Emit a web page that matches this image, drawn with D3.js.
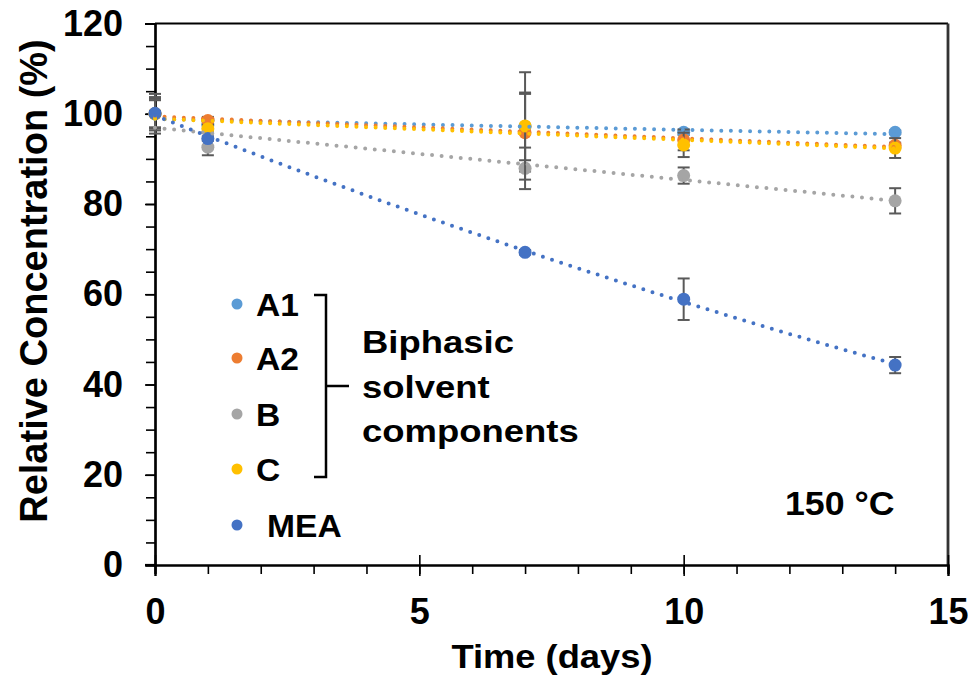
<!DOCTYPE html>
<html>
<head>
<meta charset="utf-8">
<script src="https://cdn.jsdelivr.net/npm/d3@7"></script>
<style>
  html, body { margin: 0; padding: 0; background: #fff; }
  svg text { font-family: "Liberation Sans", Arial, sans-serif; font-weight: bold; fill: #000; }
</style>
</head>
<body>
<svg id="chart" width="973" height="682"></svg>
<script>
// Sampling days
const days = [0, 1, 7, 10, 14];

// Relative concentration (%) per component
const seriesNames = ["A1", "A2", "B", "C", "MEA"];
const valuesA1  = [100.0, 97.5, 97.2, 95.9, 95.9];
const valuesA2  = [100.0, 98.5, 95.8, 94.2, 93.0];
const valuesB   = [100.0, 92.6, 87.9, 86.3, 80.7];
const valuesC   = [100.0, 96.7, 97.3, 93.1, 92.4];
const valuesMEA = [100.1, 94.5, 69.3, 58.9, 44.3];

// Standard deviations (±) for the error bars
const errA1  = [4.4, 0.8, 7.5, 0.6, 0.4];
const errA2  = [3.0, 0.8, 8.6, 2.3, 0.6];
const errB   = [3.3, 1.8, 4.6, 1.8, 2.8];
const errC   = [3.7, 0.8, 11.9, 2.7, 2.2];
const errMEA = [0.5, 0.5, 0.5, 4.6, 1.8];

// Trendline order per series (1 = linear, 2 = quadratic)
const trendOrder = [1, 1, 1, 1, 2];

const colors = ["#5B9BD5", "#ED7D31", "#A5A5A5", "#FFC000", "#4472C4"];

// Axis ticks
const xMajorTicks = [0, 5, 10, 15];
const xMinorTicks = d3.range(0, 16, 1);
const yMajorTicks = [0, 20, 40, 60, 80, 100, 120];
const yMinorTicks = d3.range(0, 121, 5);

const allValues = [valuesA1, valuesA2, valuesB, valuesC, valuesMEA];
const allErrors = [errA1, errA2, errB, errC, errMEA];

const series = seriesNames.map((name, i) => ({
  name,
  color: colors[i],
  order: trendOrder[i],
  points: days.map((d, j) => ({ x: d, y: allValues[i][j], e: allErrors[i][j] }))
}));

const svg = d3.select("#chart");
svg.append("rect").attr("width", 973).attr("height", 682).attr("fill", "#fff");

const x = d3.scaleLinear().domain([0, 15]).range([155, 948]);
const y = d3.scaleLinear().domain([0, 120]).range([565, 23.5]);

// Plot frame: top and right borders
svg.append("line").attr("x1", x(0)).attr("x2", x(15)).attr("y1", y(120)).attr("y2", y(120))
  .attr("stroke", "#000").attr("stroke-width", 2);
svg.append("line").attr("x1", x(15)).attr("x2", x(15)).attr("y1", y(120)).attr("y2", y(0))
  .attr("stroke", "#333").attr("stroke-width", 2.8);

// Y axis: minor ticks every 5, labels every 20
const yMinor = svg.append("g").attr("transform", `translate(${x(0)},0)`)
  .call(d3.axisLeft(y).tickValues(yMinorTicks).tickSize(9).tickFormat(""));
const yMajor = svg.append("g").attr("transform", `translate(${x(0)},0)`)
  .call(d3.axisLeft(y).tickValues(yMajorTicks).tickSize(10).tickPadding(22).tickFormat(d3.format("d")));

// X axis: minor ticks outside, major ticks crossing
const xMinor = svg.append("g").attr("transform", `translate(0,${y(0)})`)
  .call(d3.axisBottom(x).tickValues(xMinorTicks).tickSize(9).tickFormat(""));
const xMajorIn = svg.append("g").attr("transform", `translate(0,${y(0)})`)
  .call(d3.axisTop(x).tickValues(xMajorTicks).tickSize(10).tickFormat(""));
const xMajor = svg.append("g").attr("transform", `translate(0,${y(0)})`)
  .call(d3.axisBottom(x).tickValues(xMajorTicks).tickSize(11).tickPadding(22).tickFormat(d3.format("d")));

[yMinor, yMajor, xMinor, xMajorIn, xMajor].forEach(g => {
  g.selectAll(".domain").attr("stroke", "#000").attr("stroke-width", 2.2);
  g.selectAll(".tick line").attr("stroke", "#000").attr("stroke-width", 1.6);
  g.selectAll("text").style("font-size", "36px").attr("fill", "#000");
});
xMajorIn.select(".domain").remove();
svg.append("line").attr("x1", x(0) - 10).attr("x2", x(0)).attr("y1", y(0)).attr("y2", y(0))
  .attr("stroke", "#000").attr("stroke-width", 2.2);

// Least-squares polynomial fit (order 1 or 2) via normal equations
function polyFit(pts, order) {
  const n = order + 1;
  const A = Array.from({ length: n }, () => new Array(n + 1).fill(0));
  pts.forEach(p => {
    for (let r = 0; r < n; r++) {
      for (let c = 0; c < n; c++) A[r][c] += Math.pow(p.x, r + c);
      A[r][n] += p.y * Math.pow(p.x, r);
    }
  });
  for (let i = 0; i < n; i++) {
    for (let k = i + 1; k < n; k++) {
      const f = A[k][i] / A[i][i];
      for (let c = i; c <= n; c++) A[k][c] -= f * A[i][c];
    }
  }
  const coef = new Array(n).fill(0);
  for (let i = n - 1; i >= 0; i--) {
    let s = A[i][n];
    for (let c = i + 1; c < n; c++) s -= A[i][c] * coef[c];
    coef[i] = s / A[i][i];
  }
  return t => coef.reduce((acc, k, i) => acc + k * Math.pow(t, i), 0);
}

const plot = svg.append("g");

series.forEach(s => {
  const g = plot.append("g");
  const eb = g.selectAll(".eb").data(s.points).join("g").attr("class", "eb");
  eb.append("line")
    .attr("x1", p => x(p.x)).attr("x2", p => x(p.x))
    .attr("y1", p => y(p.y + p.e)).attr("y2", p => y(p.y - p.e))
    .attr("stroke", "#595959").attr("stroke-width", 2);
  [1, -1].forEach(sign => {
    eb.append("line")
      .attr("x1", p => x(p.x) - 6).attr("x2", p => x(p.x) + 6)
      .attr("y1", p => y(p.y + sign * p.e)).attr("y2", p => y(p.y + sign * p.e))
      .attr("stroke", "#595959").attr("stroke-width", 2);
  });
  g.selectAll("circle").data(s.points).join("circle")
    .attr("cx", p => x(p.x)).attr("cy", p => y(p.y)).attr("r", 6.5)
    .attr("fill", s.color);
});

// Dotted trendlines
const xs = d3.range(0, 14.001, 0.25);
series.forEach(s => {
  const f = polyFit(s.points, s.order);
  plot.append("path")
    .attr("d", d3.line().x(t => x(t)).y(t => y(f(t)))(xs))
    .attr("fill", "none")
    .attr("stroke", s.color).attr("stroke-width", 4)
    .attr("stroke-linecap", "round").attr("stroke-dasharray", "0 9.6");
});

// Axis titles
svg.append("text")
  .attr("transform", `translate(${552},${668}) scale(1.1,1)`)
  .attr("text-anchor", "middle").style("font-size", "33px")
  .text("Time (days)");
svg.append("text")
  .attr("transform", `translate(${47},${281}) rotate(-90)`)
  .attr("text-anchor", "middle").style("font-size", "38px")
  .text("Relative Concentration (%)");

// Legend
const legendY = [304, 358, 414, 469, 525];
const legend = svg.append("g");
series.forEach((s, i) => {
  legend.append("circle").attr("cx", 237).attr("cy", legendY[i]).attr("r", 5.5).attr("fill", s.color);
  legend.append("text")
    .attr("transform", `translate(${s.name === "MEA" ? 267 : 256},${legendY[i] + 12}) scale(1.05,1)`)
    .style("font-size", "32px").text(s.name);
});

// Bracket grouping the biphasic solvent components
const bracket = d3.path();
bracket.moveTo(314, 295); bracket.lineTo(326, 295); bracket.lineTo(326, 477); bracket.lineTo(314, 477);
bracket.moveTo(326, 386); bracket.lineTo(349, 386);
svg.append("path").attr("d", bracket.toString()).attr("fill", "none")
  .attr("stroke", "#000").attr("stroke-width", 2.5);

const groupLines = ["Biphasic", "solvent", "components"];
const groupBase = [353, 398, 442];
groupLines.forEach((t, i) => {
  svg.append("text")
    .attr("transform", `translate(362,${groupBase[i]}) scale(1.14,1)`)
    .style("font-size", "32px").text(t);
});

// Temperature annotation
svg.append("text")
  .attr("transform", `translate(785,515) scale(1.05,1)`)
  .style("font-size", "34px").text("150 °C");
</script>
</body>
</html>
